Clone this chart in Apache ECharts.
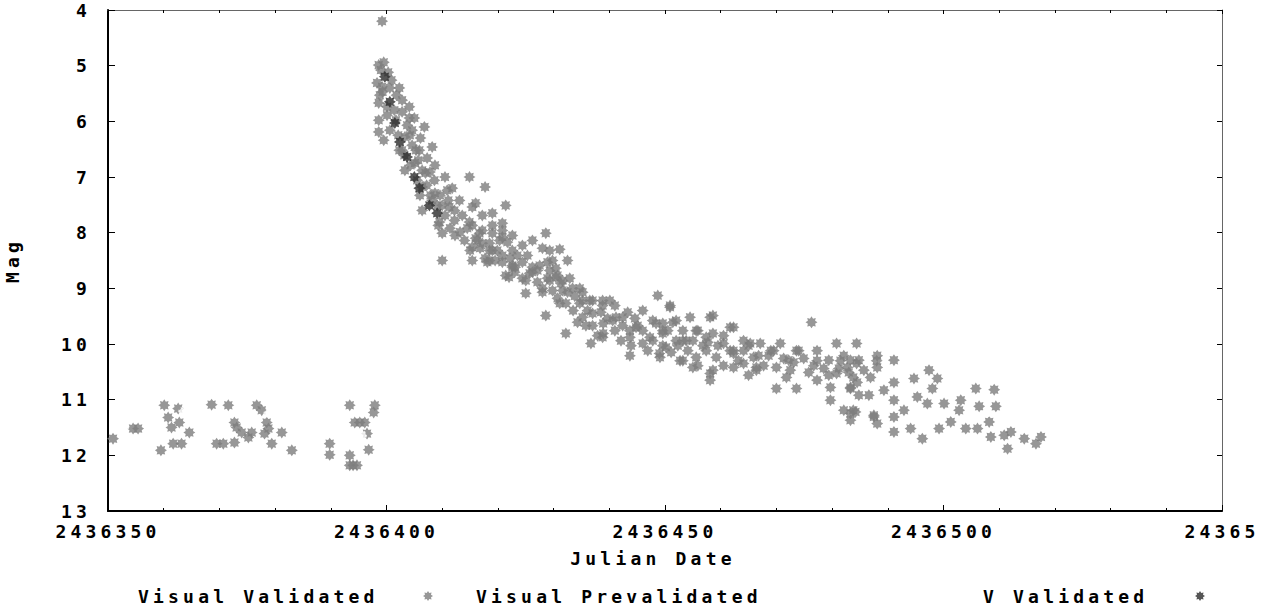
<!DOCTYPE html>
<html>
<head>
<meta charset="utf-8">
<title>Mag vs Julian Date</title>
<script src="https://cdn.jsdelivr.net/npm/echarts@6/dist/echarts.min.js"></script>
<style>
  html, body { margin: 0; padding: 0; background: #fff; }
  #chart { width: 1266px; height: 606px; }
  /* the original plot uses a wide pixel font, so the mono glyphs get spread out */
  #chart text { letter-spacing: 4.2px; }
</style>
</head>
<body>
<div id="chart"></div>
<script>
const seriesNames = ["Visual Validated", "Visual Prevalidated", "V Validated"];

const xTicks = [2436350, 2436400, 2436450, 2436500, 2436550];
const xTickLabels = ["2436350", "2436400", "2436450", "2436500", "24365"];
const yTicks = [4, 5, 6, 7, 8, 9, 10, 11, 12, 13];

// [julian date, magnitude]
const visualValidated = [
  // before the outburst
  [2436350.9, 11.70], [2436354.5, 11.52], [2436355.4, 11.52], [2436360.1, 11.10], [2436360.8, 11.32],
  [2436362.6, 11.16], [2436362.8, 11.41], [2436361.4, 11.50], [2436364.6, 11.59], [2436361.7, 11.79],
  [2436363.2, 11.79], [2436359.5, 11.91], [2436368.6, 11.09], [2436371.6, 11.10], [2436376.7, 11.10],
  [2436377.6, 11.19], [2436372.7, 11.41], [2436373.1, 11.50], [2436374.0, 11.59], [2436375.8, 11.59],
  [2436375.2, 11.68], [2436378.5, 11.41], [2436378.8, 11.52], [2436378.1, 11.61], [2436381.2, 11.59],
  [2436369.5, 11.79], [2436370.7, 11.79], [2436372.7, 11.77], [2436379.4, 11.79], [2436383.0, 11.91],
  [2436389.8, 11.79], [2436389.8, 11.99], [2436393.4, 12.00], [2436393.4, 12.18], [2436394.7, 12.18],
  [2436394.0, 12.18], [2436393.4, 11.10], [2436397.9, 11.10], [2436397.7, 11.23], [2436394.3, 11.41],
  [2436395.2, 11.41], [2436396.1, 11.41], [2436396.5, 11.61], [2436396.8, 11.90],
  // rise and fast decline
  [2436399.2, 4.20],
  [2436398.6, 4.99], [2436398.3, 5.31], [2436399.2, 5.38], [2436402.3, 5.40], [2436398.6, 5.67],
  [2436400.1, 5.74], [2436404.1, 5.74], [2436402.8, 5.83], [2436398.6, 5.98], [2436398.6, 6.19],
  [2436404.1, 5.94], [2436406.8, 6.10], [2436404.6, 6.16], [2436403.3, 6.28], [2436408.2, 6.46],
  [2436402.8, 6.52], [2436405.9, 6.52], [2436405.1, 6.75], [2436408.7, 6.79], [2436403.3, 6.88],
  [2436407.0, 6.93], [2436410.5, 7.00], [2436414.9, 7.00], [2436417.7, 7.18], [2436406.4, 7.18],
  [2436411.8, 7.20], [2436408.7, 7.29], [2436413.1, 7.42], [2436416.0, 7.47], [2436421.4, 7.51],
  [2436406.4, 7.60], [2436411.3, 7.54], [2436419.0, 7.65], [2436409.5, 7.81], [2436414.9, 7.81],
  [2436420.8, 7.83], [2436410.0, 8.01], [2436412.3, 8.05], [2436416.7, 8.01], [2436420.8, 8.08],
  [2436428.6, 8.01], [2436426.2, 8.14], [2436410.0, 8.50], [2436415.4, 8.26], [2436418.5, 8.32],
  [2436422.6, 8.32], [2436429.3, 8.32], [2436415.4, 8.50], [2436419.5, 8.50], [2436423.1, 8.62],
  [2436425.7, 8.73], [2436429.3, 8.68], [2436422.0, 8.80], [2436430.4, 8.80],
  [2436399.0, 5.08], [2436399.3, 5.47], [2436400.9, 5.26], [2436401.8, 5.53], [2436400.1, 5.89],
  [2436401.4, 5.80], [2436402.8, 5.62], [2436400.6, 6.16], [2436402.1, 6.25], [2436403.7, 6.07],
  [2436405.0, 5.94], [2436403.2, 6.61], [2436404.6, 6.43], [2436406.1, 6.30], [2436404.3, 6.79],
  [2436405.7, 6.70], [2436407.3, 6.66], [2436405.5, 7.06], [2436407.2, 7.15], [2436408.6, 7.06],
  [2436407.9, 7.33], [2436409.6, 7.33], [2436410.9, 7.24], [2436409.1, 7.51], [2436410.5, 7.69],
  [2436412.2, 7.78], [2436413.6, 7.69], [2436411.4, 7.92], [2436413.2, 7.99], [2436414.5, 7.92],
  [2436414.0, 8.14], [2436416.0, 8.10], [2436417.2, 7.96], [2436415.0, 8.32], [2436416.8, 8.28],
  [2436418.5, 8.19], [2436419.0, 8.01], [2436419.9, 8.32], [2436417.7, 8.46], [2436420.8, 8.53],
  [2436422.2, 8.46], [2436423.5, 8.41], [2436424.4, 8.53], [2436423.0, 8.71], [2436424.4, 8.82],
  [2436426.2, 8.71], [2436427.5, 8.59], [2436427.1, 8.89], [2436428.9, 8.82], [2436430.4, 8.64],
  [2436429.8, 9.04], [2436431.3, 8.91], [2436432.5, 9.07], [2436433.8, 9.14], [2436432.2, 9.27],
  [2436433.5, 9.40], [2436435.2, 9.22], [2436436.1, 9.40], [2436434.3, 9.61], [2436437.0, 9.67],
  [2436438.5, 9.43], [2436439.7, 9.54], [2436441.0, 9.31], [2436437.9, 9.85], [2436441.0, 9.76],
  [2436442.4, 9.67], [2436442.1, 9.94], [2436443.9, 10.03], [2436444.6, 9.54], [2436446.0, 9.76],
  [2436446.9, 10.12], [2436447.8, 9.94], [2436449.6, 10.03], [2436451.1, 10.15], [2436450.5, 9.76],
  [2436452.3, 10.03], [2436454.1, 10.12], [2436455.0, 9.94], [2436455.9, 10.39], [2436456.8, 10.03],
  [2436459.5, 10.03], [2436460.5, 10.39], [2436463.2, 10.30], [2436464.1, 10.12], [2436465.0, 10.56],
  [2436467.7, 10.39], [2436468.6, 10.21], [2436471.3, 10.26], [2436473.1, 10.33], [2436474.9, 10.26],
  [2436475.8, 10.51], [2436478.5, 10.44], [2436479.4, 10.56], [2436481.2, 10.44], [2436483.0, 10.51],
  [2436485.7, 10.47], [2436484.8, 10.92], [2436486.6, 10.92], [2436489.3, 10.83],
  [2436399.5, 4.94], [2436400.3, 5.12], [2436398.8, 5.53], [2436400.6, 5.40], [2436401.7, 5.98],
  [2436399.5, 6.34], [2436402.3, 6.52], [2436404.2, 6.25], [2436405.3, 6.52], [2436406.4, 6.88],
  [2436407.8, 6.91], [2436406.0, 7.33], [2436408.2, 7.42], [2436410.0, 7.51], [2436411.1, 7.42],
  [2436409.3, 7.87], [2436412.2, 7.60],
  // slow decline
  [2436415.4, 7.54], [2436417.2, 8.19], [2436420.3, 8.14], [2436428.0, 8.28], [2436431.1, 8.30],
  [2436429.8, 8.50], [2436432.5, 8.50], [2436418.5, 8.50], [2436422.6, 8.62], [2436426.2, 8.62],
  [2436421.4, 8.77], [2436425.0, 8.86], [2436429.3, 8.86], [2436432.9, 8.82], [2436425.0, 9.09],
  [2436428.0, 9.07], [2436431.6, 9.04], [2436434.7, 9.00], [2436431.1, 9.27], [2436434.7, 9.27],
  [2436440.1, 9.22], [2436428.6, 9.49], [2436435.2, 9.52], [2436435.8, 9.67], [2436438.9, 9.63],
  [2436432.2, 9.81], [2436436.7, 9.99], [2436438.9, 9.81], [2436443.7, 10.21], [2436446.0, 9.40],
  [2436448.7, 9.13], [2436450.9, 9.34], [2436442.4, 9.52], [2436444.8, 9.70], [2436448.4, 9.63],
  [2436452.0, 9.58], [2436443.7, 9.88], [2436447.3, 9.88], [2436449.6, 9.81], [2436454.5, 9.52],
  [2436458.1, 9.52], [2436452.0, 9.94], [2436455.6, 9.76], [2436458.6, 9.81], [2436462.3, 9.70],
  [2436449.0, 10.17], [2436453.2, 10.30], [2436457.4, 10.12], [2436461.7, 10.12], [2436465.3, 9.99],
  [2436458.1, 10.53], [2436464.1, 10.35], [2436466.4, 10.42],
  [2436415.4, 7.87], [2436417.2, 7.69], [2436419.0, 7.87], [2436420.8, 7.96], [2436421.7, 8.17],
  [2436416.3, 8.14], [2436419.0, 8.32], [2436422.6, 8.05], [2436424.4, 8.23], [2436420.8, 8.41],
  [2436425.3, 8.41], [2436418.1, 8.53], [2436422.6, 8.59], [2436427.1, 8.68], [2436428.9, 8.53],
  [2436430.7, 8.77], [2436428.0, 9.00], [2436431.6, 8.86], [2436433.4, 9.00], [2436435.2, 9.07],
  [2436430.7, 9.18], [2436437.0, 9.22], [2436438.8, 9.31], [2436440.6, 9.58], [2436443.3, 9.43],
  [2436445.1, 9.67], [2436447.8, 9.58], [2436449.6, 9.76], [2436451.4, 9.61], [2436453.2, 9.94],
  [2436455.9, 9.76], [2436457.7, 9.97], [2436460.5, 9.85], [2436462.3, 10.12], [2436465.0, 10.03],
  [2436466.8, 10.21], [2436469.5, 10.12], [2436472.2, 10.29], [2436474.0, 10.12], [2436476.7, 10.39],
  [2436479.4, 10.29], [2436482.1, 10.21],
  [2436436.5, 9.22], [2436438.8, 9.22], [2436437.0, 9.45], [2436450.9, 9.31], [2436458.6, 9.49],
  [2436461.7, 9.70], [2436441.2, 9.52], [2436443.7, 9.76], [2436449.6, 9.63], [2436453.2, 9.76],
  [2436438.8, 9.88], [2436446.0, 9.99], [2436450.2, 10.06], [2436453.8, 9.94], [2436457.4, 9.88],
  [2436460.5, 9.99], [2436464.1, 9.94], [2436467.1, 9.99], [2436470.7, 9.99], [2436476.3, 9.61],
  [2436449.1, 10.24], [2436452.7, 10.30], [2436455.6, 10.24], [2436459.2, 10.24], [2436462.3, 10.17],
  [2436465.9, 10.24], [2436469.0, 10.12], [2436473.6, 10.12], [2436477.3, 10.12], [2436480.8, 9.99],
  [2436484.4, 9.99], [2436455.0, 10.42], [2436458.6, 10.47], [2436458.1, 10.65], [2436462.3, 10.42],
  [2436466.4, 10.47], [2436470.0, 10.42], [2436472.5, 10.47], [2436477.3, 10.30], [2436481.5, 10.30],
  [2436484.4, 10.35], [2436488.0, 10.30], [2436470.0, 10.80], [2436473.6, 10.80], [2436471.8, 10.60],
  [2436477.3, 10.65], [2436479.7, 10.78], [2436483.3, 10.78], [2436480.8, 10.53], [2436483.8, 10.60],
  [2436486.9, 10.60], [2436479.7, 11.01], [2436482.1, 11.19], [2436483.8, 11.19], [2436487.5, 11.28],
  [2436483.3, 10.29], [2436483.3, 10.80], [2436483.3, 11.25], [2436484.2, 11.22], [2436483.3, 11.37],
  [2436482.7, 10.42], [2436484.5, 10.69], [2436484.8, 10.29], [2436488.1, 10.21], [2436488.1, 10.42],
  [2436491.1, 10.29], [2436491.1, 10.69], [2436494.7, 10.62], [2436497.4, 10.47], [2436498.9, 10.62],
  [2436498.0, 10.80], [2436491.1, 11.01], [2436495.3, 10.95], [2436497.1, 11.07], [2436500.1, 11.07],
  [2436503.1, 11.01], [2436502.8, 11.19], [2436492.9, 11.19], [2436487.5, 11.31], [2436488.1, 11.43],
  [2436491.1, 11.31], [2436491.1, 11.58], [2436494.1, 11.52], [2436496.2, 11.70], [2436499.2, 11.52],
  [2436501.3, 11.40], [2436504.0, 11.52], [2436506.1, 11.52], [2436508.2, 11.40], [2436505.8, 10.80],
  [2436509.1, 10.82], [2436506.4, 11.12], [2436509.4, 11.12], [2436508.5, 11.67], [2436510.9, 11.64],
  [2436512.1, 11.58], [2436511.5, 11.88], [2436514.5, 11.70], [2436516.6, 11.79], [2436517.5, 11.67]
];

const visualPrevalidated = [
  [2436352.9, 11.49], [2436363.5, 11.22], [2436373.4, 11.25], [2436378.8, 11.25],
  [2436394.4, 11.73], [2436395.6, 11.64], [2436493.2, 10.86], [2436507.9, 11.22]
];

const vValidated = [
  [2436399.7, 5.20], [2436400.6, 5.65], [2436401.5, 6.03], [2436402.4, 6.37], [2436403.7, 6.64],
  [2436405.0, 7.00], [2436405.9, 7.20], [2436407.7, 7.51], [2436409.1, 7.65]
];

const starPath = "path://M5,0 L6.3,2.0 L8.54,1.46 L8.0,3.7 L10,5 L8.0,6.3 L8.54,8.54 L6.3,8.0 " +
  "L5,10 L3.7,8.0 L1.46,8.54 L2.0,6.3 L0,5 L2.0,3.7 L1.46,1.46 L3.7,2.0 Z";

const font = { fontFamily: "DejaVu Sans Mono", fontWeight: "bold", fontSize: 18, color: "#000" };

const chart = echarts.init(document.getElementById("chart"), null, { renderer: "svg" });

const xRange = {
  type: "value",
  min: xTicks[0],
  max: xTicks[xTicks.length - 1],
  interval: xTicks[1] - xTicks[0]
};
const yRange = {
  type: "value",
  inverse: true,
  min: yTicks[0],
  max: yTicks[yTicks.length - 1],
  interval: yTicks[1] - yTicks[0]
};

chart.setOption({
  animation: false,
  backgroundColor: "#fff",
  grid: { left: 108, right: 44, top: 10, bottom: 95, outerBoundsMode: "none" },
  legend: [
    // text parts
    { left: 128, top: 582, icon: "none", itemWidth: 0, selectedMode: false, data: [seriesNames[0]], textStyle: font },
    { left: 466, top: 582, icon: "none", itemWidth: 0, selectedMode: false, data: [seriesNames[1]], textStyle: font },
    { left: 973, top: 582, icon: "none", itemWidth: 0, selectedMode: false, data: [seriesNames[2]], textStyle: font },
    // marker parts, drawn after the text like the original
    { left: 418, top: 586, itemWidth: 10, itemHeight: 10, selectedMode: false, data: [seriesNames[0]], formatter: () => "" },
    { left: 803, top: 586, itemWidth: 10, itemHeight: 10, selectedMode: false, data: [seriesNames[1]], formatter: () => "" },
    { left: 1190, top: 586, itemWidth: 10, itemHeight: 10, selectedMode: false, data: [seriesNames[2]], formatter: () => "" }
  ],
  xAxis: [
    Object.assign({}, xRange, {
      position: "bottom",
      name: "Julian Date",
      nameLocation: "middle",
      nameGap: 38,
      nameTextStyle: Object.assign({}, font, { padding: [0, 24, 0, 0] }),
      axisLine: { lineStyle: { color: "#000", width: 2 } },
      axisTick: { inside: true, length: 6, lineStyle: { color: "#000" } },
      minorTick: { show: true, splitNumber: 5, length: 3, lineStyle: { color: "#000" } },
      splitLine: { show: false },
      axisLabel: Object.assign({}, font, {
        margin: 11,
        showMaxLabel: true,
        formatter: v => xTickLabels[xTicks.indexOf(v)] || ""
      })
    }),
    Object.assign({}, xRange, {
      position: "top",
      axisLine: { lineStyle: { color: "#666", width: 1 } },
      axisTick: { inside: true, length: 4, lineStyle: { color: "#000" } },
      minorTick: { show: true, splitNumber: 5, length: 3, lineStyle: { color: "#000" } },
      splitLine: { show: false },
      axisLabel: { show: false }
    })
  ],
  yAxis: [
    Object.assign({}, yRange, {
      position: "left",
      name: "Mag",
      nameLocation: "middle",
      nameGap: 87,
      nameRotate: 90,
      nameTextStyle: font,
      axisLine: { lineStyle: { color: "#000", width: 2 } },
      axisTick: { inside: true, length: 7, lineStyle: { color: "#000" } },
      splitLine: { show: false },
      axisLabel: Object.assign({}, font, { margin: 17, formatter: v => String(v) })
    }),
    Object.assign({}, yRange, {
      position: "right",
      axisLine: { lineStyle: { color: "#666", width: 1 } },
      axisTick: { inside: true, length: 5, lineStyle: { color: "#000" } },
      splitLine: { show: false },
      axisLabel: { show: false }
    })
  ],
  series: [
    {
      name: seriesNames[0],
      type: "scatter",
      symbol: starPath,
      symbolSize: 12,
      itemStyle: { color: "#7d7d7d" },
      data: visualValidated
    },
    {
      name: seriesNames[1],
      type: "scatter",
      symbol: "emptyCircle",
      symbolSize: 8,
      itemStyle: { color: "#fff", borderColor: "#9a9a9a", borderWidth: 1, borderType: "dotted" },
      data: visualPrevalidated
    },
    {
      name: seriesNames[2],
      type: "scatter",
      symbol: starPath,
      symbolSize: 12,
      itemStyle: { color: "#2a2a2a" },
      data: vValidated
    }
  ]
});
</script>
</body>
</html>
